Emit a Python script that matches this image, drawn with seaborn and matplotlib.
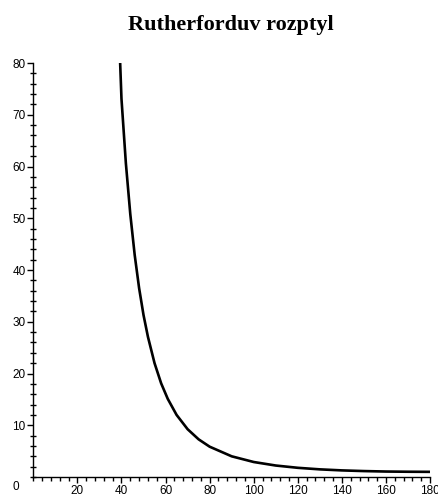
import matplotlib
matplotlib.use("Agg")
import matplotlib.pyplot as plt
import seaborn as sns
import pandas as pd
from matplotlib.ticker import MultipleLocator

# angle (degrees) and relative scattering intensity
theta = [39.4, 40, 42, 44, 46, 48, 50, 52, 55, 58, 61, 65, 70, 75, 80,
         90, 100, 110, 120, 130, 140, 150, 160, 170, 180]
intensity = [80.0, 73.1, 60.6, 50.8, 42.9, 36.5, 31.3, 27.1, 22.0, 18.1, 15.1,
             12.0, 9.24, 7.28, 5.86, 4.0, 2.9, 2.22, 1.78, 1.48, 1.28, 1.15,
             1.06, 1.02, 1.0]
x_ticks = [20, 40, 60, 80, 100, 120, 140, 160, 180]
y_ticks = [10, 20, 30, 40, 50, 60, 70, 80]
title = "Rutherforduv rozptyl"

sns.set_theme(style="ticks")
plt.rcParams['font.family'] = ['Liberation Sans', 'DejaVu Sans']
plt.rcParams['text.color'] = 'black'

df = pd.DataFrame({"theta": theta, "I": intensity})

fig = plt.figure(figsize=(4.38, 4.97), dpi=100)
ax = fig.add_axes([0.076, 0.0402, 0.906, 0.833])
sns.lineplot(data=df, x="theta", y="I", ax=ax, color="black", linewidth=1.9)

ax.set_xlim(0, 180)
ax.set_ylim(0, 80)
ax.set_xticks(x_ticks)
ax.set_yticks(y_ticks)
ax.xaxis.set_minor_locator(MultipleLocator(4))
ax.yaxis.set_minor_locator(MultipleLocator(2))
ax.set_xlabel("")
ax.set_ylabel("")
for s in ["top", "right"]:
    ax.spines[s].set_visible(False)
for s in ["left", "bottom"]:
    ax.spines[s].set_linewidth(1.0)
    ax.spines[s].set_color("black")
ax.tick_params(axis="both", which="major", direction="out", length=4, width=1,
               colors="black", labelsize=8.5, pad=1.5)
ax.tick_params(axis="y", which="minor", direction="inout", length=4, width=1, colors="black")
ax.tick_params(axis="x", which="minor", direction="out", length=3, width=1, colors="black")
ax.text(-0.045, -0.025, "0", transform=ax.transAxes, fontsize=8.5,
        ha="center", va="center", color="black")

fig.text(0.527, 0.95, title, ha="center", va="center", fontsize=16,
         fontweight="bold", color="black", family=["Liberation Serif", "DejaVu Serif"])

fig.savefig("out.png", dpi=100)
